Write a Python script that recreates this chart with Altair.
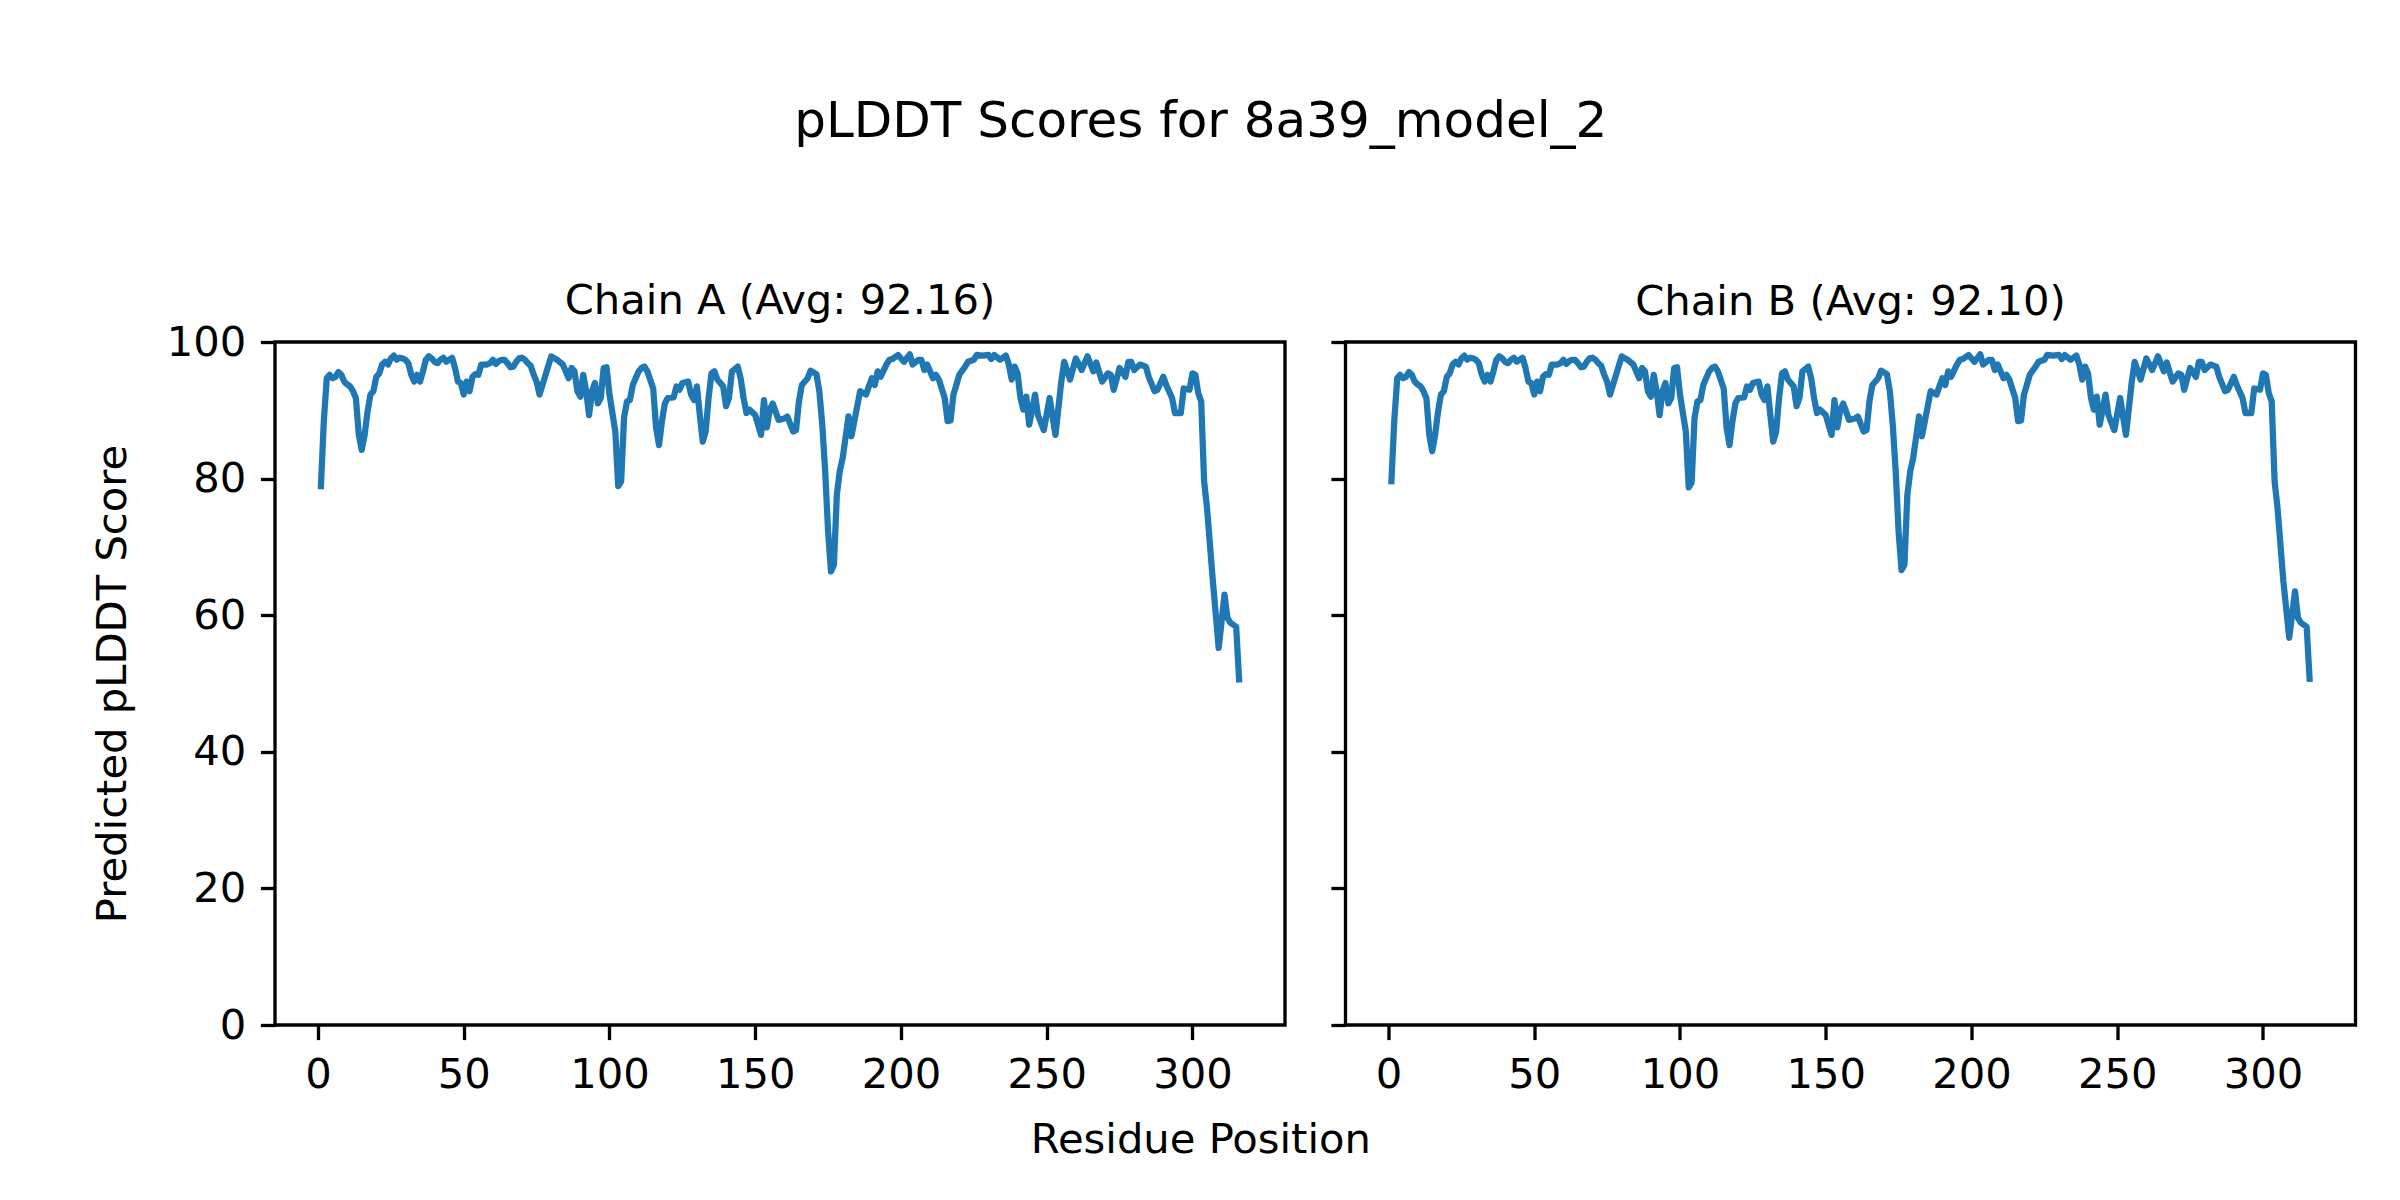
import altair as alt
import pandas as pd

# ---------------- data ----------------
residues = [1,2,3,4,5,6,7,8,9,10,11,12,13,14,15,16,17,18,19,20,
            21,22,23,24,25,26,27,28,29,30,31,32,33,34,35,36,37,38,39,40,
            41,42,43,44,45,46,47,48,49,50,51,52,53,54,55,56,57,58,59,60,
            61,62,63,64,65,66,67,68,69,70,71,72,73,74,75,76,80,82,84,86,
            87,88,89,90,91,92,93,94,95,96,97,98,99,100,102,103,104,105,106,107,
            108,110,111,112,113,115,116,117,118,119,120,122,123,124,125,127,128,129,130,131,
            132,133,134,135,136,137,139,140,141,142,144,145,146,147,148,150,152,153,154,155,
            156,158,160,161,163,164,165,166,168,169,171,172,173,174,175,176,177,178,179,180,
            182,183,184,186,188,190,191,192,193,195,196,197,199,201,203,204,206,207,208,209,
            211,212,213,215,216,217,218,219,220,222,223,225,226,228,230,231,232,234,236,237,
            238,239,240,241,242,243,244,246,247,249,251,253,255,256,258,260,262,264,266,267,
            269,271,272,273,275,277,278,279,280,282,284,285,287,288,290,291,293,294,296,297,
            299,300,301,302,303,304,305,307,309,311,312,313,315,316]

scores_a = [78.9,88.4,94.7,95.2,94.7,94.9,95.6,95.2,94.2,93.8,93.5,92.8,91.8,86.4,84.2,86.4,89.8,92.3,92.8,94.9,
            95.4,96.7,97.1,96.7,97.6,98.0,97.4,97.7,97.6,97.4,96.9,95.2,94.2,95.2,94.2,95.7,97.4,97.9,97.6,97.1,
            96.9,97.4,97.7,97.1,97.4,97.7,96.2,94.2,94.0,92.3,94.2,92.8,94.9,95.3,95.2,96.7,96.7,96.7,96.9,97.4,
            96.8,97.2,97.4,97.4,96.9,96.3,96.4,97.1,97.6,97.7,97.4,96.9,96.5,95.2,94.2,92.3,97.9,97.4,96.7,94.7,
            96.2,95.7,92.8,92.0,95.2,92.8,89.3,92.8,94.0,91.0,91.8,96.2,96.3,92.3,86.9,78.9,79.6,88.9,91.3,91.5,
            93.7,95.7,96.2,96.4,95.7,93.2,87.4,84.9,88.4,91.0,91.8,91.9,93.5,93.0,94.0,94.2,92.3,91.5,93.5,89.3,
            85.4,86.9,91.8,95.4,95.7,94.5,93.5,90.6,91.8,95.7,96.4,94.7,91.8,89.6,90.1,89.3,86.4,91.5,87.5,90.1,
            91.0,88.6,88.8,89.1,86.9,87.1,91.3,93.7,94.7,95.8,95.3,92.8,87.9,81.1,72.3,66.4,67.4,77.6,81.1,83.0,
            89.1,86.2,88.4,92.8,92.3,94.7,93.7,95.7,94.9,96.7,97.4,97.5,98.1,97.1,98.2,96.7,97.4,97.4,95.9,96.7,
            94.7,95.2,94.5,91.8,88.4,88.5,92.3,93.7,95.2,96.4,97.1,97.4,98.1,98.0,98.1,97.5,98.1,97.4,98.0,96.7,
            94.5,96.4,95.4,91.8,90.1,92.0,87.9,92.3,89.3,87.1,91.8,86.4,94.2,97.1,94.5,97.6,95.9,97.9,95.7,97.0,
            94.2,95.4,95.2,93.0,96.2,94.9,97.1,97.1,95.9,96.7,96.4,94.9,92.8,93.0,94.9,93.7,91.8,89.6,89.6,93.2,
            93.0,95.4,95.2,92.5,91.3,79.6,75.7,65.0,55.2,63.0,59.6,58.9,58.3,50.6]

scores_b = [79.6,88.6,94.7,95.2,94.7,94.9,95.6,95.2,94.2,93.8,93.5,92.8,91.8,86.4,84.0,86.4,89.8,92.3,92.8,94.9,
            95.4,96.7,97.1,96.7,97.6,98.0,97.4,97.7,97.6,97.4,96.9,95.2,94.2,95.2,94.2,95.7,97.4,97.9,97.6,97.1,
            96.9,97.4,97.7,97.1,97.4,97.7,96.2,94.2,94.0,92.3,94.2,92.8,94.9,95.3,95.2,96.7,96.7,96.7,96.9,97.4,
            96.8,97.2,97.4,97.4,96.9,96.3,96.4,97.1,97.6,97.7,97.4,96.9,96.5,95.2,94.2,92.3,97.9,97.4,96.7,94.7,
            96.2,95.7,92.8,92.0,95.2,92.8,89.3,92.8,94.0,91.0,91.8,96.2,96.3,92.3,86.9,78.7,79.4,88.9,91.3,91.5,
            93.7,95.7,96.2,96.4,95.7,93.2,87.4,84.9,88.4,91.0,91.8,91.9,93.5,93.0,94.0,94.2,92.3,91.5,93.5,89.3,
            85.4,86.9,91.8,95.4,95.7,94.5,93.5,90.6,91.8,95.7,96.4,94.7,91.8,89.6,90.1,89.3,86.4,91.5,87.5,90.1,
            91.0,88.6,88.8,89.1,86.9,87.1,91.3,93.7,94.7,95.8,95.3,92.8,87.9,81.1,72.3,66.6,67.4,77.6,81.1,83.0,
            89.1,86.2,88.4,92.8,92.3,94.7,93.7,95.7,94.9,96.7,97.4,97.5,98.1,97.1,98.2,96.7,97.4,97.4,95.9,96.7,
            94.7,95.2,94.5,91.8,88.4,88.5,92.3,93.7,95.2,96.4,97.1,97.4,98.1,98.0,98.1,97.5,98.1,97.4,98.0,96.7,
            94.5,96.4,95.4,91.8,90.1,92.0,87.9,92.3,89.3,87.1,91.8,86.4,94.2,97.1,94.5,97.6,95.9,97.9,95.7,97.0,
            94.2,95.4,95.2,93.0,96.2,94.9,97.1,97.1,95.9,96.7,96.4,94.9,92.8,93.0,94.9,93.7,91.8,89.6,89.6,93.2,
            93.0,95.4,95.2,92.5,91.3,79.6,75.7,65.0,56.7,63.5,59.6,58.9,58.3,50.7]

panel_titles = ["Chain A (Avg: 92.16)", "Chain B (Avg: 92.10)"]
suptitle = "pLDDT Scores for 8a39_model_2"
x_title = "Residue Position"
y_title = "Predicted pLDDT Score"
x_ticks = [0, 50, 100, 150, 200, 250, 300]
y_ticks = [0, 20, 40, 60, 80, 100]

FONT = "DejaVu Sans"
BLUE = "#1f77b4"
W, H = 1010, 683

x_scale = alt.Scale(domain=[-14.75, 331.75], nice=False, zero=False)
y_scale = alt.Scale(domain=[0, 100], nice=False)


def panel(scores, title, first, title_dy):
    df = pd.DataFrame({"residue": residues, "score": scores})
    if first:
        xax = alt.Axis(values=x_ticks, title=x_title, titleX=925.4, titleY=127,
                       titleAlign="center", titleBaseline="alphabetic")
        yax = alt.Axis(values=y_ticks, title=y_title, titleX=-163, titleY=341.5,
                       titleAngle=270, titleAlign="center", titleBaseline="middle")
    else:
        xax = alt.Axis(values=x_ticks, title=None)
        yax = alt.Axis(values=y_ticks, labels=False, title=None)
    return (
        alt.Chart(df)
        .mark_line(color=BLUE, strokeWidth=6.25, strokeJoin="round", strokeCap="square")
        .encode(
            x=alt.X("residue:Q", scale=x_scale, axis=xax),
            y=alt.Y("score:Q", scale=y_scale, axis=yax),
        )
        .properties(
            width=W, height=H,
            title=alt.TitleParams(text=title, font=FONT, fontSize=41.7, fontWeight="normal",
                                  color="black", anchor="middle", baseline="alphabetic",
                                  offset=25, dy=title_dy),
        )
    )


chart = (
    alt.hconcat(panel(scores_a, panel_titles[0], True, 59),
                panel(scores_b, panel_titles[1], False, 41),
                spacing=60.5, bounds="flush")
    .properties(
        title=alt.TitleParams(text=suptitle, font=FONT, fontSize=50, fontWeight="normal",
                              color="black", anchor="middle", baseline="alphabetic",
                              offset=93, dx=-23),
        padding={"left": 82, "top": 88, "right": 0, "bottom": 0},
        background="white",
    )
    .configure_view(stroke="black", strokeWidth=3.33)
    .configure_axis(
        domain=False, grid=False, ticks=True, tickSize=14.6, tickWidth=3.33, tickColor="black",
        labelFont=FONT, labelFontSize=41.7, labelColor="black", labelPadding=14.6,
        titleFont=FONT, titleFontSize=41.7, titleFontWeight="normal", titleColor="black",
    )
)

chart.save("out.html", embed_options={"renderer": "svg", "actions": False})
